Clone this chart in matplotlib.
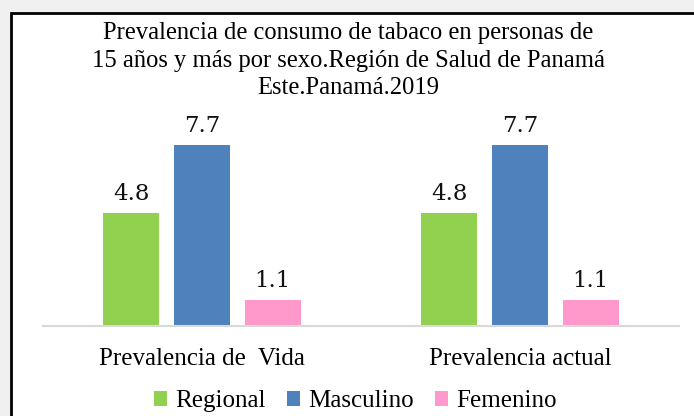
import numpy as np
import matplotlib.pyplot as plt
from matplotlib.patches import Rectangle, Patch

categories = ["Prevalencia de  Vida", "Prevalencia actual"]
series = ["Regional", "Masculino", "Femenino"]
regional = [4.8, 4.8]
masculino = [7.7, 7.7]
femenino = [1.1, 1.1]
colors = ["#92D050", "#4F81BD", "#FF99CC"]

W, H = 694, 416
fig = plt.figure(figsize=(W / 100, H / 100), dpi=100, facecolor="#f0f0f0")

# white chart area with black border (right/bottom run off the image)
fig.patches.append(Rectangle((11 / W, -0.1), 1, 1.1 - 13 / H, transform=fig.transFigure,
                             facecolor="white", edgecolor="black", linewidth=2, zorder=-10))

ax = fig.add_axes([43 / W, 1 - 326 / H, 636 / W, 211.5 / H])
ax.set_facecolor("none")

x = np.arange(len(categories))
w = 0.176
off = 0.222
for i, (vals, c) in enumerate(zip([regional, masculino, femenino], colors)):
    bars = ax.bar(x + (i - 1) * off, vals, width=w, color=c, zorder=2)
    for b, v in zip(bars, vals):
        ax.text(b.get_x() + b.get_width() / 2, v + 0.35, f"{v:.1f}", ha="center", va="bottom",
                fontsize=16.5, family="DejaVu Serif", color="#111111")

ax.set_xlim(-0.5, 1.5)
ax.set_ylim(0, 9)
ax.set_yticks([])
ax.set_xticks(x)
ax.set_xticklabels(categories, fontsize=18, family="Liberation Serif")
ax.tick_params(axis="x", length=0, pad=16)
for s in ["top", "right", "left"]:
    ax.spines[s].set_visible(False)
ax.spines["bottom"].set_color("#d9d9d9")
ax.spines["bottom"].set_linewidth(1.5)

fig.text(348 / W, 1 - 60.5 / H,
         "Prevalencia de consumo de tabaco en personas de\n15 años y más por sexo.Región de Salud de Panamá\nEste.Panamá.2019",
         ha="center", va="center", fontsize=17.7, family="Liberation Serif", linespacing=1.33)

handles = [Patch(facecolor=c, label=s) for s, c in zip(series, colors)]
fig.legend(handles=handles, loc="center", bbox_to_anchor=(355 / W, 1 - 401 / H), ncol=3,
           frameon=False, prop={"family": "Liberation Serif", "size": 18},
           handlelength=0.55, handleheight=0.55, handletextpad=0.3, columnspacing=0.85)

fig.savefig("out.png", dpi=100, facecolor=fig.get_facecolor())
